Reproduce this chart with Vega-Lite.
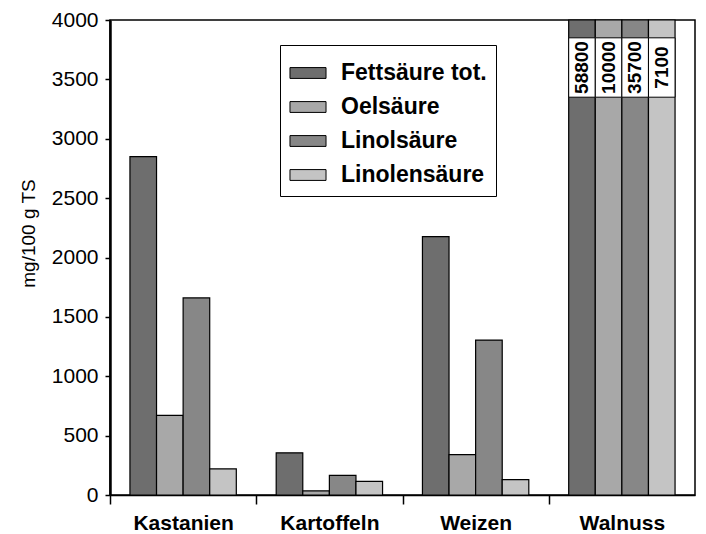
{
  "$schema": "https://vega.github.io/schema/vega-lite/v6.json",
  "width": 585,
  "height": 475,
  "autosize": {"type": "none"},
  "padding": {"left": 110, "top": 20, "right": 11, "bottom": 39},
  "background": "white",
  "config": {
    "view": {"stroke": "black", "strokeWidth": 1.5},
    "font": "Liberation Sans"
  },
  "data": {
    "values": [
      {"Sorte": "Kastanien", "Saeure": "Fettsäure tot.", "Wert": 2850},
      {"Sorte": "Kastanien", "Saeure": "Oelsäure", "Wert": 670},
      {"Sorte": "Kastanien", "Saeure": "Linolsäure", "Wert": 1660},
      {"Sorte": "Kastanien", "Saeure": "Linolensäure", "Wert": 220},
      {"Sorte": "Kartoffeln", "Saeure": "Fettsäure tot.", "Wert": 355},
      {"Sorte": "Kartoffeln", "Saeure": "Oelsäure", "Wert": 35},
      {"Sorte": "Kartoffeln", "Saeure": "Linolsäure", "Wert": 165},
      {"Sorte": "Kartoffeln", "Saeure": "Linolensäure", "Wert": 115},
      {"Sorte": "Weizen", "Saeure": "Fettsäure tot.", "Wert": 2175},
      {"Sorte": "Weizen", "Saeure": "Oelsäure", "Wert": 340},
      {"Sorte": "Weizen", "Saeure": "Linolsäure", "Wert": 1305},
      {"Sorte": "Weizen", "Saeure": "Linolensäure", "Wert": 130},
      {"Sorte": "Walnuss", "Saeure": "Fettsäure tot.", "Wert": 58800},
      {"Sorte": "Walnuss", "Saeure": "Oelsäure", "Wert": 10000},
      {"Sorte": "Walnuss", "Saeure": "Linolsäure", "Wert": 35700},
      {"Sorte": "Walnuss", "Saeure": "Linolensäure", "Wert": 7100}
    ]
  },
  "encoding": {
    "x": {
      "field": "Sorte",
      "type": "nominal",
      "sort": null,
      "scale": {"paddingInner": 0, "paddingOuter": 0},
      "axis": {
        "title": null,
        "labelAngle": 0,
        "labelFontSize": 21,
        "labelFontWeight": "bold",
        "labelColor": "black",
        "tickOffset": -73,
        "labelOffset": 73,
        "tickSize": 9,
        "tickWidth": 1.5,
        "tickColor": "black",
        "domainColor": "black",
        "domainWidth": 1.5,
        "labelPadding": 8
      }
    },
    "xOffset": {
      "field": "Saeure",
      "type": "nominal",
      "sort": ["Fettsäure tot.", "Oelsäure", "Linolsäure", "Linolensäure"],
      "scale": {"paddingInner": 0, "paddingOuter": 0.75}
    }
  },
  "layer": [
    {
      "mark": {"type": "bar", "stroke": "black", "strokeWidth": 1.2},
      "encoding": {
        "y": {
          "field": "Wert",
          "type": "quantitative",
          "scale": {"domain": [0, 4000], "clamp": true, "nice": false},
          "axis": {
            "title": "mg/100 g TS",
            "values": [0, 500, 1000, 1500, 2000, 2500, 3000, 3500, 4000],
            "format": "d",
            "grid": false,
            "labelFontSize": 21,
            "labelColor": "black",
            "titleFontSize": 19,
            "titleFontWeight": "normal",
            "titleColor": "black",
            "domainColor": "black",
            "domainWidth": 2.5,
            "tickColor": "black",
            "tickWidth": 1.5,
            "tickSize": 5,
            "labelPadding": 7,
            "titleX": -72,
            "titleY": 213
          }
        },
        "fill": {
          "field": "Saeure",
          "type": "nominal",
          "sort": ["Fettsäure tot.", "Oelsäure", "Linolsäure", "Linolensäure"],
          "scale": {
            "domain": ["Fettsäure tot.", "Oelsäure", "Linolsäure", "Linolensäure"],
            "range": ["#6e6e6e", "#a8a8a8", "#878787", "#c4c4c4"]
          },
          "legend": {
            "orient": "none",
            "legendX": 170,
            "legendY": 25,
            "title": null,
            "symbolType": "M-1,-0.3H1V0.3H-1Z",
            "symbolSize": 1300,
            "symbolStrokeColor": "black",
            "symbolStrokeWidth": 1,
            "symbolOpacity": 1,
            "labelFontSize": 23,
            "labelFontWeight": "bold",
            "labelColor": "black",
            "labelOffset": 14,
            "fillColor": "white",
            "strokeColor": "black",
            "padding": 9,
            "rowPadding": 3
          }
        }
      }
    },
    {
      "transform": [{"filter": "datum.Sorte === 'Walnuss'"}],
      "mark": {"type": "bar", "fill": "white", "stroke": "black", "strokeWidth": 1},
      "encoding": {
        "y": {"datum": 3850, "type": "quantitative"},
        "y2": {"datum": 3350}
      }
    },
    {
      "transform": [{"filter": "datum.Sorte === 'Walnuss'"}],
      "mark": {"type": "text", "angle": 270, "fontWeight": "bold", "fontSize": 19, "color": "black", "align": "center", "baseline": "middle"},
      "encoding": {
        "xOffset": {
          "field": "Saeure",
          "type": "nominal",
          "sort": ["Fettsäure tot.", "Oelsäure", "Linolsäure", "Linolensäure"],
          "bandPosition": 0.5
        },
        "y": {"datum": 3600, "type": "quantitative"},
        "text": {"field": "Wert", "type": "quantitative", "format": "d"}
      }
    }
  ]
}
